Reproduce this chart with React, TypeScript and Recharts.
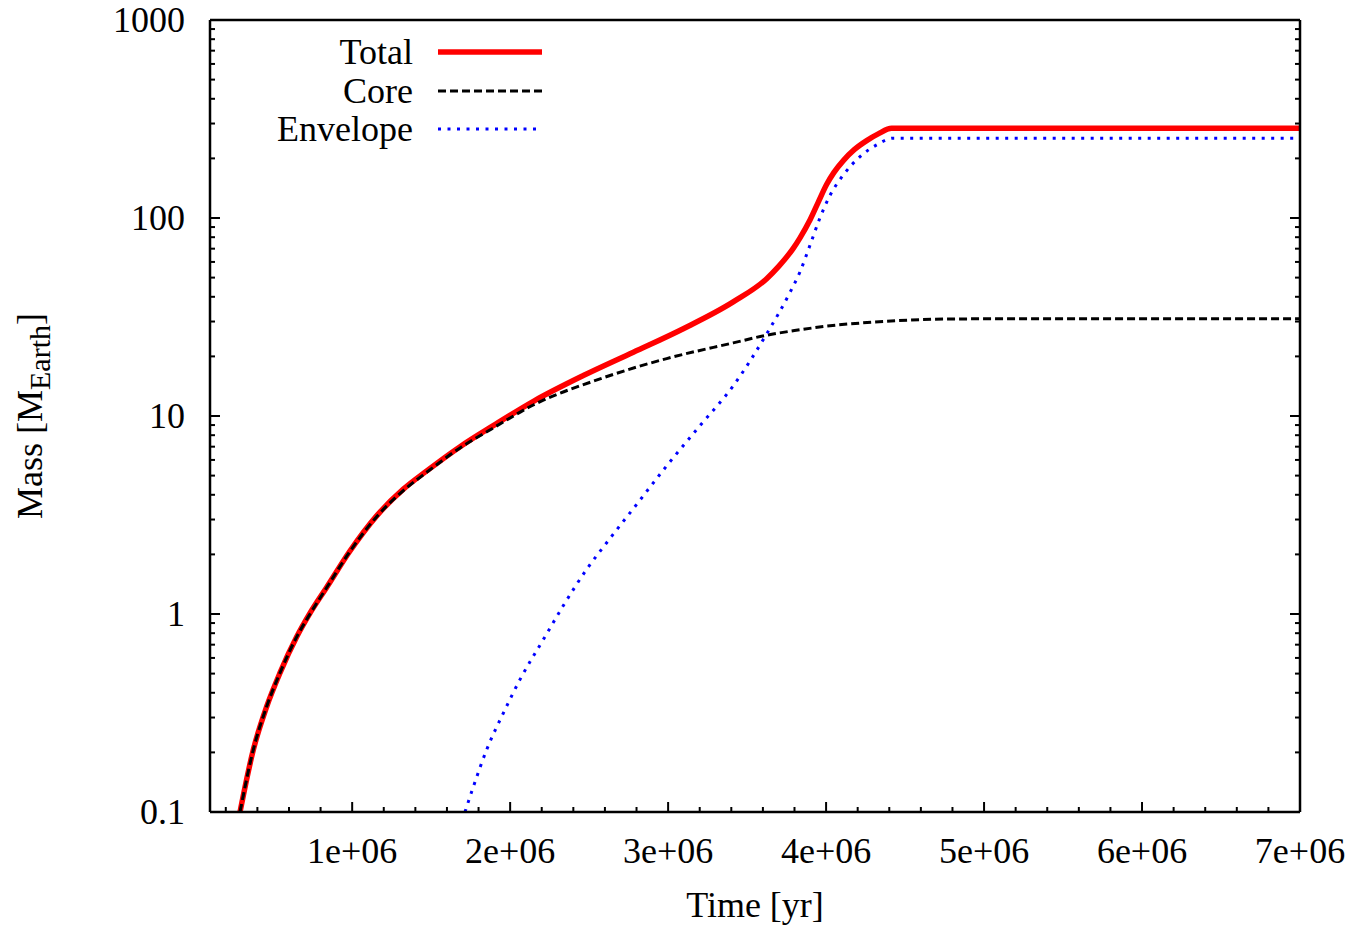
import React from "react";
import { LineChart, Line, XAxis, YAxis, Legend } from "recharts";

// values (time in yr, mass in Earth masses)
const totalTime = [
  290000, 374000, 459000, 543000, 649000, 733000, 839000, 986000, 1155000, 1324000, 1472000,
  1683000, 1893000, 2150000, 2463000, 2780000, 3096000, 3412000, 3624000, 3700000, 3792000,
  3835000, 3898000, 3950000, 4004000, 4050000, 4109000, 4180000, 4257000, 4330000, 4415000, 7000000,
];
const totalMass = [
  0.1, 0.206, 0.341, 0.504, 0.767, 1.01, 1.365, 2.08, 3.13, 4.27, 5.28, 7.0, 8.94, 11.9, 16.0, 21.0,
  27.6, 37.7, 49.4, 57, 70.2, 79.4, 97.7, 120, 148, 170, 195, 222, 246, 266, 284, 284,
];

const coreTime = [
  290000, 374000, 459000, 543000, 649000, 733000, 839000, 986000, 1155000, 1324000, 1472000,
  1683000, 1893000, 2150000, 2569000, 2991000, 3412000, 3624000, 3800000, 4000000, 4360000,
  4780000, 5300000, 7000000,
];
const coreMass = [
  0.1, 0.206, 0.341, 0.504, 0.767, 1.0, 1.36, 2.07, 3.1, 4.2, 5.2, 6.9, 8.7, 11.4, 15.4, 19.5, 23.4,
  25.6, 27.0, 28.4, 30.0, 30.9, 31.0, 31.0,
];

const envelopeTime = [
  1714000, 1767000, 1851000, 1957000, 2062000, 2210000, 2336000, 2484000, 2611000, 2801000,
  2991000, 3202000, 3412000, 3624000, 3771000, 3835000, 3898000, 3961000, 4025000, 4109000,
  4215000, 4320000, 4425000, 7000000,
];
const envelopeMass = [
  0.1, 0.134, 0.206, 0.316, 0.466, 0.743, 1.1, 1.68, 2.29, 3.58, 5.6, 8.94, 14.2, 26.0, 42, 53.5,
  72.8, 100, 130, 165, 204, 234, 253, 253,
];

const xMajorTicks = [1000000, 2000000, 3000000, 4000000, 5000000, 6000000, 7000000];
const xTickLabels = ["1e+06", "2e+06", "3e+06", "4e+06", "5e+06", "6e+06", "7e+06"];
const yMajorTicks = [0.1, 1, 10, 100, 1000];
const yTickLabels = ["0.1", "1", "10", "100", "1000"];

const toPoints = (ts: number[], ms: number[]) => ts.map((t, i) => ({ t, m: ms[i] }));
const totalData = toPoints(totalTime, totalMass);
const coreData = toPoints(coreTime, coreMass);
const envelopeData = toPoints(envelopeTime, envelopeMass);

// minor ticks every 2e5 yr, log minors 2..9 per decade
const xTicks = Array.from({ length: 35 }, (_, i) => (i + 1) * 200000);
const yTicks = [
  ...[0.1, 1, 10, 100].flatMap((d) =>
    [1, 2, 3, 4, 5, 6, 7, 8, 9].map((k) => Number((d * k).toPrecision(3)))
  ),
  1000,
];

const FONT = '"Liberation Serif", "DejaVu Serif", "Times New Roman", serif';
const MAJOR = 10;
const MINOR = 5;

const xLabel = (v: number) => {
  const i = xMajorTicks.findIndex((m) => Math.abs(m - v) < 1);
  return i >= 0 ? xTickLabels[i] : null;
};
const yLabel = (v: number) => {
  const i = yMajorTicks.findIndex((m) => Math.abs(m - v) < 1e-9);
  return i >= 0 ? yTickLabels[i] : null;
};

const BottomTick = ({ x, y, payload }: any) => {
  const label = xLabel(payload.value);
  return (
    <g>
      <line x1={x} x2={x} y1={y} y2={y - (label ? MAJOR : MINOR)} stroke="#000" strokeWidth={2} />
      {label && (
        <text x={x} y={y + 51} textAnchor="middle" fontFamily={FONT} fontSize={36} fill="#000">
          {label}
        </text>
      )}
    </g>
  );
};

const TopTick = ({ x, y, payload }: any) => (
  <line x1={x} x2={x} y1={y} y2={y + (xLabel(payload.value) ? MAJOR : MINOR)} stroke="#000" strokeWidth={2} />
);

const LeftTick = ({ x, y, payload }: any) => {
  const label = yLabel(payload.value);
  return (
    <g>
      <line x1={x} x2={x + (label ? MAJOR : MINOR)} y1={y} y2={y} stroke="#000" strokeWidth={2} />
      {label && (
        <text x={x - 25} y={y + 12} textAnchor="end" fontFamily={FONT} fontSize={36} fill="#000">
          {label}
        </text>
      )}
    </g>
  );
};

const RightTick = ({ x, y, payload }: any) => (
  <line x1={x} x2={x - (yLabel(payload.value) ? MAJOR : MINOR)} y1={y} y2={y} stroke="#000" strokeWidth={2} />
);

const MassLabel = ({ viewBox }: any) => {
  const cy = viewBox.y + viewBox.height / 2;
  return (
    <text
      x={42}
      y={cy}
      transform={`rotate(-90, 42, ${cy})`}
      textAnchor="middle"
      fontFamily={FONT}
      fontSize={36}
      fill="#000"
    >
      Mass [M
      <tspan fontSize={30} dy={8}>Earth</tspan>
      <tspan dy={-8}>]</tspan>
    </text>
  );
};

const TimeLabel = ({ viewBox }: any) => (
  <text
    x={viewBox.x + viewBox.width / 2}
    y={917}
    textAnchor="middle"
    fontFamily={FONT}
    fontSize={36}
    fill="#000"
  >
    Time [yr]
  </text>
);

const series = [
  { name: "Total", data: totalData, stroke: "#ff0000", width: 5.5, dash: undefined as string | undefined },
  { name: "Core", data: coreData, stroke: "#000000", width: 3, dash: "8 4" },
  { name: "Envelope", data: envelopeData, stroke: "#0000ff", width: 3, dash: "3 6.5" },
];

const LegendBox = () => (
  <div style={{ fontFamily: FONT, fontSize: 36, color: "#000" }}>
    {series.map((s) => (
      <div key={s.name} style={{ display: "flex", alignItems: "center", height: 38.5 }}>
        <span style={{ width: 163, textAlign: "right", lineHeight: "38px" }}>{s.name}</span>
        <svg width={104} height={10} style={{ marginLeft: 25 }}>
          <line x1={0} x2={104} y1={5} y2={5} stroke={s.stroke} strokeWidth={s.width} strokeDasharray={s.dash} />
        </svg>
      </div>
    ))}
  </div>
);

export default function App() {
  return (
    <div style={{ position: "absolute", left: 0, top: 0, background: "#fff" }}>
      <LineChart width={1356} height={931} margin={{ top: 19, right: 55, bottom: 59, left: 130 }}>
        <XAxis
          dataKey="t"
          type="number"
          domain={[100000, 7000000]}
          allowDataOverflow
          ticks={xTicks}
          interval={0}
          tick={BottomTick}
          tickSize={0}
          tickMargin={0}
          tickLine={false}
          height={60}
          axisLine={{ stroke: "#000", strokeWidth: 2.5 }}
          label={<TimeLabel />}
        />
        <XAxis
          xAxisId="top"
          orientation="top"
          type="number"
          domain={[100000, 7000000]}
          allowDataOverflow
          ticks={xTicks}
          interval={0}
          tick={TopTick}
          tickSize={0}
          tickMargin={0}
          tickLine={false}
          height={1}
          axisLine={{ stroke: "#000", strokeWidth: 2.5 }}
        />
        <YAxis
          type="number"
          scale="log"
          domain={[0.1, 1000]}
          allowDataOverflow
          ticks={yTicks}
          interval={0}
          tick={LeftTick}
          tickSize={0}
          tickMargin={0}
          tickLine={false}
          width={80}
          axisLine={{ stroke: "#000", strokeWidth: 2.5 }}
          label={<MassLabel />}
        />
        <YAxis
          yAxisId="right"
          orientation="right"
          type="number"
          scale="log"
          domain={[0.1, 1000]}
          allowDataOverflow
          ticks={yTicks}
          interval={0}
          tick={RightTick}
          tickSize={0}
          tickMargin={0}
          tickLine={false}
          width={1}
          axisLine={{ stroke: "#000", strokeWidth: 2.5 }}
        />
        <Legend
          layout="horizontal"
          verticalAlign="middle"
          align="center"
          wrapperStyle={{ top: 33, left: 250, width: 320 }}
          content={<LegendBox />}
        />
        {series.map((s) => (
          <Line
            key={s.name}
            name={s.name}
            data={s.data}
            dataKey="m"
            type="monotone"
            stroke={s.stroke}
            strokeWidth={s.width}
            strokeDasharray={s.dash}
            dot={false}
            activeDot={false}
            isAnimationActive={false}
          />
        ))}
      </LineChart>
    </div>
  );
}
